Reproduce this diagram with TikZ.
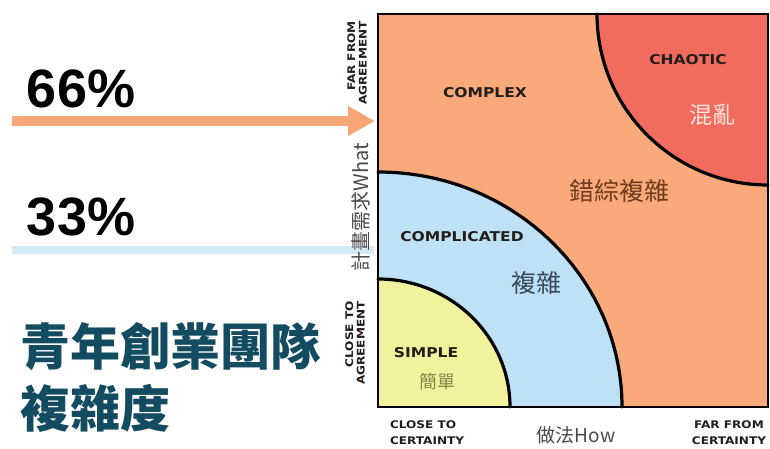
\documentclass[tikz,border=0pt]{standalone}
\usepackage{fontspec}
\usepackage{graphicx}
\usetikzlibrary{arrows.meta}
\setmainfont{Liberation Sans}
\newfontfamily\cjk{Noto Sans CJK TC}
\newfontfamily\hand{DejaVu Sans}[FakeStretch=1.15]
\definecolor{cOrange}{HTML}{F9A97A}
\definecolor{cRed}{HTML}{F26B5F}
\definecolor{cBlue}{HTML}{BEE1F6}
\definecolor{cYellow}{HTML}{F1F39C}
\definecolor{cArrow}{HTML}{F7A677}
\definecolor{cLine}{HTML}{D5E9F7}
\definecolor{cTitle}{HTML}{134B60}
\definecolor{cInk}{HTML}{231E1A}
\definecolor{cBrown}{HTML}{6E3B1F}
\definecolor{cSlate}{HTML}{3B4B5B}
\definecolor{cOlive}{HTML}{85834E}
\definecolor{cPink}{HTML}{FDE6DE}
\definecolor{cGray}{HTML}{4A4A4A}
\begin{document}
\begin{tikzpicture}[x=1pt,y=1pt,
  every node/.style={inner sep=0pt,outer sep=0pt},
  pct/.style={font=\bfseries\fontsize{54}{54}\selectfont,text=black},
  ttl/.style={font=\cjk\bfseries\fontsize{50}{50}\selectfont,text=cTitle},
  big/.style={font=\hand\bfseries\fontsize{13.5}{13.5}\selectfont,text=cInk},
  sml/.style={font=\hand\bfseries\fontsize{10.5}{16}\selectfont,text=cInk},
  rsml/.style={font=\hand\bfseries\fontsize{10.5}{11.5}\selectfont,text=cInk,rotate=90,align=right},
  zh/.style={font=\cjk\fontsize{#1}{#1}\selectfont},
  arcline/.style={line width=3.2pt,black,line cap=round}]
\useasboundingbox (0,0) rectangle (770,448);
\fill[white] (0,0) rectangle (770,448);

% chart background and regions
\coordinate (bl) at (378,41);
\coordinate (tr) at (768,434);
\fill[cOrange] (bl) rectangle (tr);
\fill[cBlue] (378,41) -- (378,276) arc[start angle=90,end angle=0,x radius=244,y radius=235] -- cycle;
\fill[cYellow] (378,41) -- (378,169) arc[start angle=90,end angle=0,x radius=132,y radius=128] -- cycle;
\fill[cRed] (768,434) -- (597,434) arc[start angle=180,end angle=270,radius=171] -- cycle;
\draw[arcline] (378,276) arc[start angle=90,end angle=0,x radius=244,y radius=235];
\draw[arcline] (378,169) arc[start angle=90,end angle=0,x radius=132,y radius=128];
\draw[arcline] (597,434) arc[start angle=180,end angle=270,radius=171];
\draw[line width=2.6pt,black] (bl) rectangle (tr);

% left arrows
\coordinate (a1s) at (12,327);
\coordinate (a1e) at (375,327);
\coordinate (a2s) at (12,198);
\coordinate (a2e) at (374,198);
\draw[cLine,line width=8pt] (a2s) -- (a2e);
\draw[cArrow,line width=9pt,-{Triangle[length=27pt,width=28pt]}] (a1s) -- (a1e);

% percentages
\node[pct,anchor=base west] (p66) at (27,341) {66\%};
\node[pct,anchor=base west] (p33) at (27,213) {33\%};

% title
\node[ttl,anchor=west] (t1) at (20,101) {青年創業團隊};
\node[ttl,anchor=west] (t2) at (20,40) {複雜度};

% axis labels
\node[rsml] (farA) at (357,385) {FAR FROM\\AGREEMENT};
\node[rsml] (closeA) at (355,105) {CLOSE TO\\AGREEMENT};
\node[zh=20,text=cGray,rotate=90] (what) at (361,241) {計畫需求What};
\node[sml,align=left,anchor=west] (closeC) at (390,15) {CLOSE TO\\CERTAINTY};
\node[sml,align=center] (farC) at (729,15) {FAR FROM\\CERTAINTY};
\node[zh=19,text=cGray] (how) at (576,13) {做法How};

% region labels
\node[big] (complex) at (485,355) {COMPLEX};
\node[big] (chaotic) at (688,388) {CHAOTIC};
\node[big] (complicated) at (462,211) {COMPLICATED};
\node[big] (simple) at (426,95) {SIMPLE};
\node[zh=23,text=cPink] (hunluan) at (712,333) {混亂};
\node[zh=25,text=cBrown] (cuozong) at (619,257) {錯綜複雜};
\node[zh=25,text=cSlate] (fuza) at (536,165) {複雜};
\node[zh=18,text=cOlive] (jiandan) at (437,66) {簡單};
\end{tikzpicture}
\end{document}
